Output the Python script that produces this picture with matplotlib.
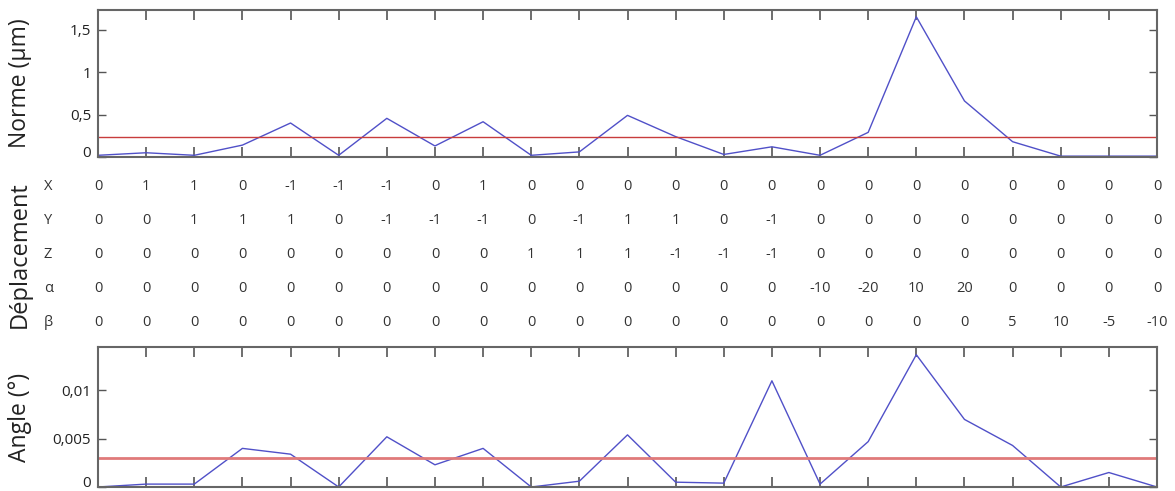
import matplotlib
matplotlib.use("Agg")
import matplotlib.pyplot as plt
from matplotlib.transforms import blended_transform_factory

plt.rcParams['font.family'] = ['Open Sans', 'DejaVu Sans']

# positions d'essai 0..22
essais = list(range(23))

norme = [0.02, 0.05, 0.02, 0.14, 0.40, 0.02, 0.455, 0.13, 0.415, 0.02, 0.06,
         0.49, 0.24, 0.03, 0.12, 0.02, 0.29, 1.65, 0.66, 0.18, 0.01, 0.01, 0.01]
seuil_norme = 0.24

angle = [0.0, 0.0003, 0.0003, 0.0040, 0.0034, 0.0, 0.0052, 0.0023, 0.0040, 0.0, 0.0006,
         0.0054, 0.0005, 0.0004, 0.0110, 0.0003, 0.0047, 0.0137, 0.0070, 0.0043, 0.0,
         0.0015, 0.0]
seuil_angle = 0.003

lignes = ['X', 'Y', 'Z', 'α', 'β']
deplacement = {
    'X': [0, 1, 1, 0, -1, -1, -1, 0, 1, 0, 0, 0, 0, 0, 0, 0, 0, 0, 0, 0, 0, 0, 0],
    'Y': [0, 0, 1, 1, 1, 0, -1, -1, -1, 0, -1, 1, 1, 0, -1, 0, 0, 0, 0, 0, 0, 0, 0],
    'Z': [0, 0, 0, 0, 0, 0, 0, 0, 0, 1, 1, 1, -1, -1, -1, 0, 0, 0, 0, 0, 0, 0, 0],
    'α': [0, 0, 0, 0, 0, 0, 0, 0, 0, 0, 0, 0, 0, 0, 0, -10, -20, 10, 20, 0, 0, 0, 0],
    'β': [0, 0, 0, 0, 0, 0, 0, 0, 0, 0, 0, 0, 0, 0, 0, 0, 0, 0, 0, 5, 10, -5, -10],
}

W, H = 1175, 491
fig = plt.figure(figsize=(W / 100, H / 100), dpi=100)

ax1 = fig.add_axes([98 / W, 1 - 157 / H, 1059 / W, 147 / H])
ax2 = fig.add_axes([98 / W, 1 - 487 / H, 1059 / W, 140 / H])

bleu = '#5050c8'
rouge = '#c83c3c'

ax1.plot(essais, norme, color=bleu, lw=1)
ax1.axhline(seuil_norme, color=rouge, lw=1)
ax1.set_ylim(0, 1.73)
ax1.set_yticks([0, 0.5, 1, 1.5])
ax1.set_yticklabels(['0', '0,5', '1', '1,5'])
ax1.set_ylabel('Norme (µm)', fontsize=16.5, color='#222222')

ax2.plot(essais, angle, color=bleu, lw=1)
ax2.axhline(seuil_angle, color='#e07a7a', lw=2)
ax2.set_ylim(0, 0.0145)
ax2.set_yticks([0, 0.005, 0.01])
ax2.set_yticklabels(['0', '0,005', '0,01'])
ax2.set_ylabel('Angle (°)', fontsize=16.5, color='#222222')

for ax in (ax1, ax2):
    ax.set_xlim(0, 22)
    ax.set_xticks(essais)
    ax.tick_params(axis='x', direction='in', top=True, bottom=True,
                   labelbottom=False, length=7, width=1.2, color='#555555')
    ax.tick_params(axis='y', direction='in', left=True, right=True,
                   length=6, width=1, color='#555555', labelsize=11,
                   labelcolor='#222222', pad=5)
    for s in ax.spines.values():
        s.set_color('#666666')
        s.set_linewidth(1.5)
    ax.yaxis.set_label_coords(-0.062, 0.5)
    # le "0" reste au-dessus du bord bas
    ax.get_yticklabels()[0].set_verticalalignment('baseline')

# tableau des déplacements sous le premier graphique
trans = blended_transform_factory(ax1.transData, fig.transFigure)
y_lignes = [187, 221, 255, 289, 322]
for nom, yp in zip(lignes, y_lignes):
    fig.text(44 / W, 1 - yp / H, nom, ha='left', va='center',
             fontsize=10.5, color='#333333')
    for i, v in zip(essais, deplacement[nom]):
        fig.text(i, 1 - yp / H, str(v), transform=trans, ha='center',
                 va='center', fontsize=10.5, color='#333333')

fig.text(20 / W, 1 - 255 / H, 'Déplacement', rotation=90, ha='center',
         va='center', fontsize=17, color='#222222')

fig.savefig('out.png', dpi=100)
